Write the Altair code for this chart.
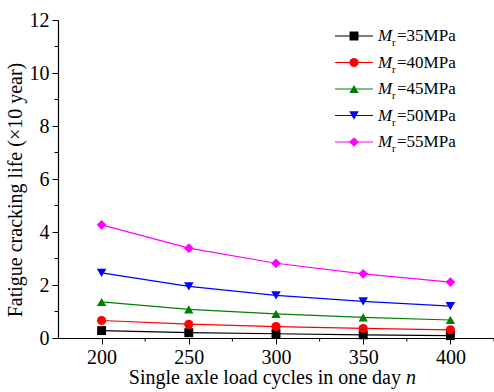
import altair as alt
import pandas as pd

cycles = [200, 250, 300, 350, 400]
series_names = ["35MPa", "40MPa", "45MPa", "50MPa", "55MPa"]
life_35 = [0.28, 0.20, 0.16, 0.12, 0.09]
life_40 = [0.66, 0.52, 0.43, 0.36, 0.31]
life_45 = [1.36, 1.08, 0.91, 0.78, 0.68]
life_50 = [2.46, 1.95, 1.61, 1.38, 1.20]
life_55 = [4.27, 3.39, 2.82, 2.42, 2.11]
colors = ["#000000", "#ff0000", "#008000", "#0000ff", "#ff00ff"]
shapes = ["square", "circle", "triangle-up", "triangle-down", "diamond"]
sizes = [80, 95, 110, 110, 110]

FONT = "Liberation Serif"

rows = []
for name, vals in zip(series_names, [life_35, life_40, life_45, life_50, life_55]):
    for c, v in zip(cycles, vals):
        rows.append({"series": name, "cycles": c, "life": v})
df = pd.DataFrame(rows)

xscale = alt.Scale(domain=[175, 425], nice=False, zero=False)
yscale = alt.Scale(domain=[0, 12], nice=False)
cscale = alt.Scale(domain=series_names, range=colors)
sscale = alt.Scale(domain=series_names, range=shapes)

base = alt.Chart(df)
lines = base.mark_line(strokeWidth=1.2).encode(
    x=alt.X("cycles:Q", scale=xscale,
            axis=alt.Axis(values=cycles, title=None, labelFont=FONT, labelFontSize=20,
                          labelColor="black", tickColor="black", domainColor="black",
                          tickSize=6, labelPadding=3, grid=False, domainWidth=1.2)),
    y=alt.Y("life:Q", scale=yscale,
            axis=alt.Axis(values=[0, 2, 4, 6, 8, 10, 12], title=None, labelFont=FONT,
                          labelFontSize=20, labelColor="black", tickColor="black",
                          domainColor="black", tickSize=6, labelPadding=3, grid=False,
                          domainWidth=1.2)),
    color=alt.Color("series:N", scale=cscale, legend=None),
    detail="series:N",
)
points = base.mark_point(filled=True, opacity=1).encode(
    x=alt.X("cycles:Q", scale=xscale),
    y=alt.Y("life:Q", scale=yscale),
    color=alt.Color("series:N", scale=cscale, legend=None),
    shape=alt.Shape("series:N", scale=sscale, legend=None),
    size=alt.Size("series:N", scale=alt.Scale(domain=series_names, range=sizes), legend=None),
)

# minor ticks
minor_y = pd.DataFrame({"v": [1, 3, 5, 7, 9, 11]})
minor_y_ticks = alt.Chart(minor_y).mark_rule(color="black", strokeWidth=1).encode(
    y=alt.Y("v:Q", scale=yscale), x=alt.value(-3.5), x2=alt.value(0)
)
minor_x = pd.DataFrame({"v": [225, 275, 325, 375, 425]})
minor_x_ticks = alt.Chart(minor_x).mark_rule(color="black", strokeWidth=1).encode(
    x=alt.X("v:Q", scale=xscale), y=alt.value(318), y2=alt.value(321.5)
)

# axis titles
ytitle = alt.Chart(pd.DataFrame({"t": ["Fatigue cracking life (\u00d710 year)"]})).mark_text(
    font=FONT, fontSize=20, angle=270, color="black", align="center", baseline="middle"
).encode(text="t:N", x=alt.value(-42), y=alt.value(170))
xtitle1 = alt.Chart(pd.DataFrame({"t": ["Single axle load cycles in one day"]})).mark_text(
    font=FONT, fontSize=20, color="black", align="right", baseline="alphabetic"
).encode(text="t:N", x=alt.value(343), y=alt.value(364))
xtitle2 = alt.Chart(pd.DataFrame({"t": ["n"]})).mark_text(
    font=FONT, fontSize=20, fontStyle="italic", color="black", align="left", baseline="alphabetic"
).encode(text="t:N", x=alt.value(348), y=alt.value(364))

# legend
leg = pd.DataFrame({"series": series_names, "row": list(range(5)),
                    "label": ["=" + s for s in series_names]})
lscale = alt.Scale(domain=[0, 4], range=[16, 122])
lbase = alt.Chart(leg)
leg_lines = lbase.mark_rule(strokeWidth=1.2).encode(
    y=alt.Y("row:Q", scale=lscale, axis=None), x=alt.value(277), x2=alt.value(315),
    color=alt.Color("series:N", scale=cscale, legend=None),
)
leg_pts = lbase.mark_point(filled=True, opacity=1).encode(
    y=alt.Y("row:Q", scale=lscale, axis=None), x=alt.value(296),
    color=alt.Color("series:N", scale=cscale, legend=None),
    shape=alt.Shape("series:N", scale=sscale, legend=None),
    size=alt.Size("series:N", scale=alt.Scale(domain=series_names, range=sizes), legend=None),
)
leg_M = lbase.mark_text(font=FONT, fontSize=17, fontStyle="italic", color="black",
                        align="left", baseline="middle").encode(
    y=alt.Y("row:Q", scale=lscale, axis=None), x=alt.value(320), text=alt.value("M"))
leg_r = lbase.mark_text(font=FONT, fontSize=11, color="black", align="left",
                        baseline="middle", dy=7).encode(
    y=alt.Y("row:Q", scale=lscale, axis=None), x=alt.value(334), text=alt.value("r"))
leg_t = lbase.mark_text(font=FONT, fontSize=17, color="black", align="left",
                        baseline="middle").encode(
    y=alt.Y("row:Q", scale=lscale, axis=None), x=alt.value(339), text="label:N")

legend = alt.layer(leg_lines, leg_pts, leg_M, leg_r, leg_t)

main = alt.layer(lines, points, minor_y_ticks, minor_x_ticks, ytitle, xtitle1, xtitle2)

chart = alt.layer(main, legend).resolve_scale(y="independent").properties(
    width=436, height=318,
    autosize=alt.AutoSizeParams(type="none"),
    padding={"left": 58, "top": 20, "right": 0, "bottom": 54},
    background="white",
).configure_view(stroke=None)

chart.save("out.html", embed_options={"renderer": "svg", "actions": False})
